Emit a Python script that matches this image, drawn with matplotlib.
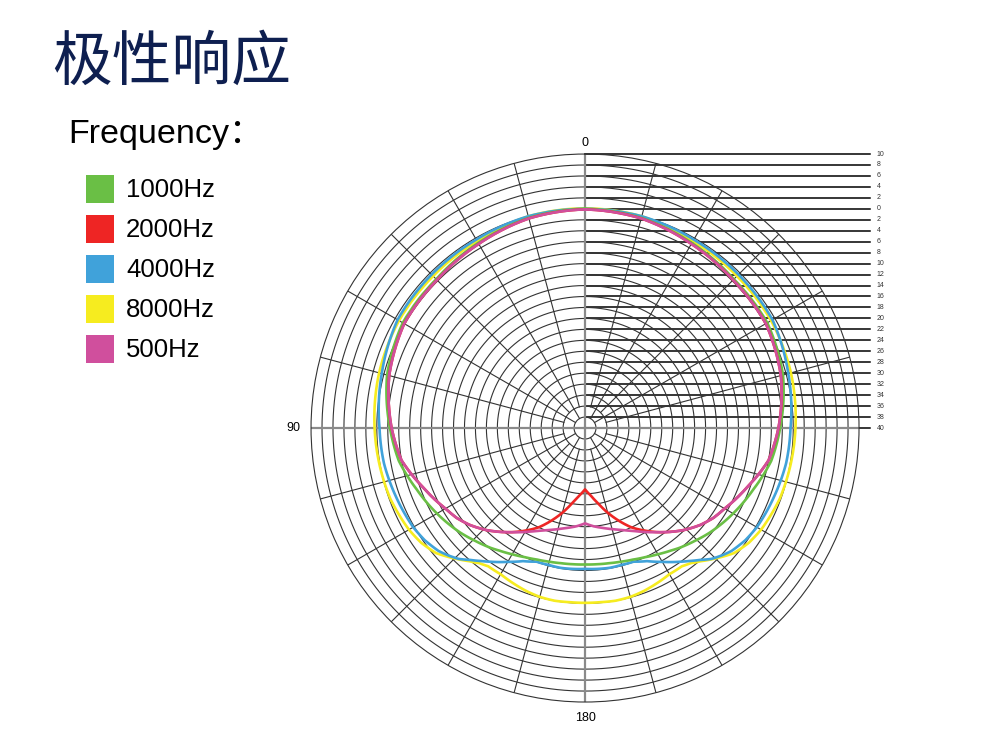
import numpy as np
import matplotlib.pyplot as plt
from matplotlib.patches import Rectangle

plt.rcParams['font.family'] = ['Liberation Sans', 'Noto Sans CJK SC', 'DejaVu Sans']

# angles (deg, 0 = front, counter-clockwise to the left), values in dB
angles = [0, 15, 30, 45, 60, 75, 90, 100, 110, 120, 125, 130, 133, 136, 139, 142, 145,
          150, 155, 160, 165, 170, 175, 180]

db_1000 = [0.0, -0.3, -1.0, -1.6, -1.6, -2.6, -4.4, -5.5, -7.3, -8.8, -9.55, -10.3, -10.8, -11.3,
           -11.75, -12.2, -12.7, -13.4, -14.0, -14.45, -14.75, -14.95, -15.05, -15.1]
db_2000 = [-0.1, -0.4, -1.2, -1.8, -1.9, -3.0, -4.7, -6.0, -8.5, -10.6, -11.4, -12.5, -13.3, -14.1,
           -15.0, -15.9, -16.8, -18.4, -20.0, -22.0, -24.0, -26.0, -27.6, -28.8]
db_4000 = [0.0, 0.0, -0.3, -0.4, -0.5, -1.6, -2.5, -2.75, -3.3, -3.8, -4.3, -5.1, -5.9, -6.8,
           -8.1, -9.2, -10.2, -11.8, -13.2, -14.05, -14.15, -14.1, -14.2, -14.3]
db_8000 = [0.1, 0.0, -0.6, -0.8, -0.8, -1.1, -1.6, -1.9, -2.2, -2.9, -3.5, -4.5, -5.6, -6.7,
           -7.8, -8.7, -9.2, -9.2, -8.8, -8.4, -8.1, -8.0, -8.1, -8.1]
db_500 = [-0.1, -0.4, -1.2, -1.8, -1.9, -3.0, -4.7, -6.0, -8.5, -10.6, -11.4, -12.5, -13.3, -14.1,
          -15.0, -15.9, -16.8, -18.1, -19.3, -20.2, -20.9, -21.5, -22.0, -22.6]

names = ['1000Hz', '2000Hz', '4000Hz', '8000Hz', '500Hz']
colors = ['#6abf45', '#ee2524', '#40a2da', '#f6ec1f', '#d04f9d']
series = [db_1000, db_2000, db_4000, db_8000, db_500]
draw_order = [3, 2, 0, 1, 4]

r_min, r_max = -40, 10
ring_levels = list(range(10, -41, -2))  # 10 ... -40
ring_labels = [str(abs(v)) for v in ring_levels]

fig = plt.figure(figsize=(10.04, 7.39), dpi=100)
rect = [0.3098, 0.0500, 0.5458, 0.7416]

# cartesian helper axes (right-side scale lines)
ax2 = fig.add_axes(rect, zorder=0)
ax2.set_xlim(-50, 50)
ax2.set_ylim(-50, 50)
ax2.axis('off')
for v, lab in zip(ring_levels, ring_labels):
    ax2.plot([0, 52], [v + 40, v + 40], color='black', lw=1.1, clip_on=False)
    ax2.text(53.2, v + 40, lab, fontsize=5, va='center', ha='left', color='#333333')

# polar axes
ax = fig.add_axes(rect, projection='polar', zorder=1)
ax.patch.set_visible(False)
ax.set_theta_zero_location('N')
ax.set_theta_direction(1)
ax.set_ylim(r_min, r_max)
ax.grid(False)
ax.set_xticks([])
ax.set_yticks([])
ax.spines['polar'].set_color('#333333')
ax.spines['polar'].set_linewidth(0.8)

full = np.linspace(0, 2 * np.pi, 721)
for v in ring_levels[1:-1]:
    ax.plot(full, np.full_like(full, v), color='#333333', lw=0.8)

# spokes every 15 deg
for a in range(0, 360, 15):
    if a % 90 == 0:
        continue
    start = -38 if a % 30 == 0 else -36
    ax.plot([np.radians(a)] * 2, [start, r_max], color='#333333', lw=0.8)

# main axes (grey)
for a in (0, 90, 180, 270):
    ax.plot([np.radians(a)] * 2, [r_min, r_max], color='#8a8a8a', lw=1.6)

# response curves, mirrored left/right; drawn as arcs between points
th_half = np.radians(angles)
for i in draw_order:
    vals = np.array(series[i])
    th = np.concatenate([th_half, 2 * np.pi - th_half[::-1][1:]])
    rr = np.concatenate([vals, vals[::-1][1:]])
    line, = ax.plot(th, rr, color=colors[i], lw=1.9, solid_joinstyle='round')
    line.get_path()._interpolation_steps = 30

ax.text(0, 12.0, '0', ha='center', va='center', fontsize=9)
ax.text(np.pi / 2, 13.3, '90', ha='center', va='center', fontsize=9)
ax.text(np.pi, 12.9, '180', ha='center', va='center', fontsize=9)

# title and legend
fig.text(0.052, 0.915, '极性响应', fontsize=43, fontweight='medium', color='#0e1f50',
         family=['Noto Sans CJK SC'], va='center', ha='left')
fig.text(0.068, 0.818, 'Frequency：', fontsize=24.5, color='black', va='center', ha='left')

W, H = 1004, 739
for k, (name, c) in enumerate(zip(names, colors)):
    top = 175 + 40 * k
    fig.add_artist(Rectangle((86 / W, 1 - (top + 28) / H), 28 / W, 28 / H,
                             transform=fig.transFigure, color=c, lw=0))
    fig.text(126 / W, 1 - (top + 15) / H, name, fontsize=18.5, va='center', ha='left')

fig.savefig('out.png', dpi=100)
